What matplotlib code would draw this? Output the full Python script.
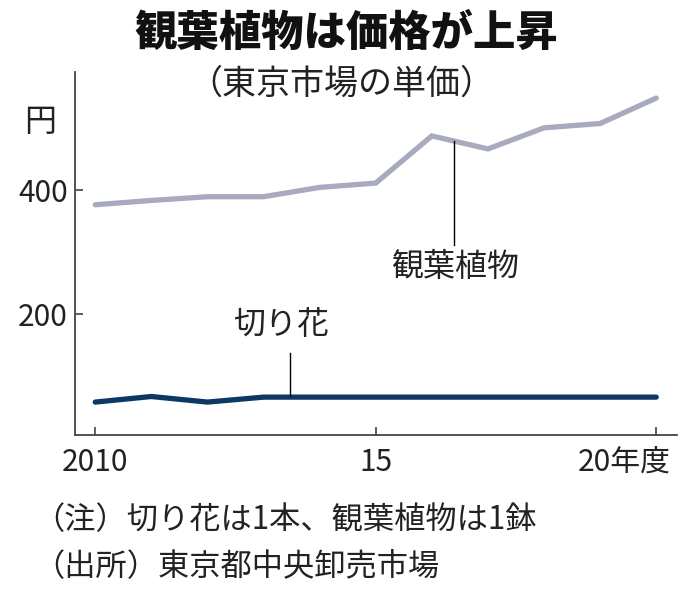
import matplotlib
matplotlib.use('Agg')
import matplotlib.pyplot as plt
import matplotlib.transforms as mtransforms

plt.rcParams['font.family'] = ['Noto Sans CJK JP', 'DejaVu Sans']

# データ(東京市場の単価、円)
years = [2010, 2011, 2012, 2013, 2014, 2015, 2016, 2017, 2018, 2019, 2020]
kanyo = [376, 383, 389, 389, 404, 411, 487, 466, 500, 507, 548]
kiribana = [58, 67, 58, 66, 66, 66, 66, 66, 66, 66, 66]

xticks = [2010, 2015, 2020]
xticklabels = ['2010', '15', '20年度']
yticks = [200, 400]

fig = plt.figure(figsize=(6.96, 5.97), dpi=100)
ax = fig.add_axes([0.1078, 0.2714, 0.8649, 0.608])

ax.plot(years, kanyo, color='#a8aabe', lw=3.8, solid_capstyle='round',
        solid_joinstyle='miter')
ax.plot(years, kiribana, color='#0d3765', lw=3.8, solid_capstyle='round')

ax.set_xlim(2009.64, 2020.37)
ax.set_ylim(5, 590)

for s in ['top', 'right']:
    ax.spines[s].set_visible(False)
for s in ['left', 'bottom']:
    ax.spines[s].set_color('#444444')
    ax.spines[s].set_linewidth(1.3)

ax.set_xticks(xticks)
ax.set_xticklabels(xticklabels)
ax.set_yticks(yticks)
ax.tick_params(direction='in', length=6, width=1.1, color='#333333',
               labelsize=21.5, labelcolor='#222222')
ax.tick_params(axis='x', pad=9)
ax.tick_params(axis='y', pad=5)

# 最後の目盛りラベルは右寄せ
last = ax.get_xticklabels()[-1]
last.set_horizontalalignment('right')
last.set_transform(last.get_transform() +
                   mtransforms.ScaledTranslation(15 / 100, 0, fig.dpi_scale_trans))

# 注記
ax.plot([2016.4, 2016.4], [479, 311], color='black', lw=1.0)
ax.text(2016.42, 276, '観葉植物', fontsize=23, ha='center', va='center',
        color='#222222')
ax.plot([2013.48, 2013.48], [68, 137], color='black', lw=1.0)
ax.text(2013.32, 182, '切り花', fontsize=23, ha='center', va='center',
        color='#222222')

# タイトルなど
fig.text(0.497, 0.9447, '観葉植物は価格が上昇', fontsize=30.5, fontweight='heavy',
         ha='center', va='center', color='#111111')
fig.text(0.491, 0.859, '（東京市場の単価）', fontsize=24.5, ha='center',
         va='center', color='#222222')
fig.text(0.0575, 0.7956, '円', fontsize=23, ha='center', va='center',
         color='#222222')
fig.text(0.0474, 0.129, '（注）切り花は1本、観葉植物は1鉢', fontsize=22.5,
         ha='left', va='center', color='#222222')
fig.text(0.0474, 0.050, '（出所）東京都中央卸売市場', fontsize=22.5,
         ha='left', va='center', color='#222222')

fig.savefig('out.png', dpi=100)
